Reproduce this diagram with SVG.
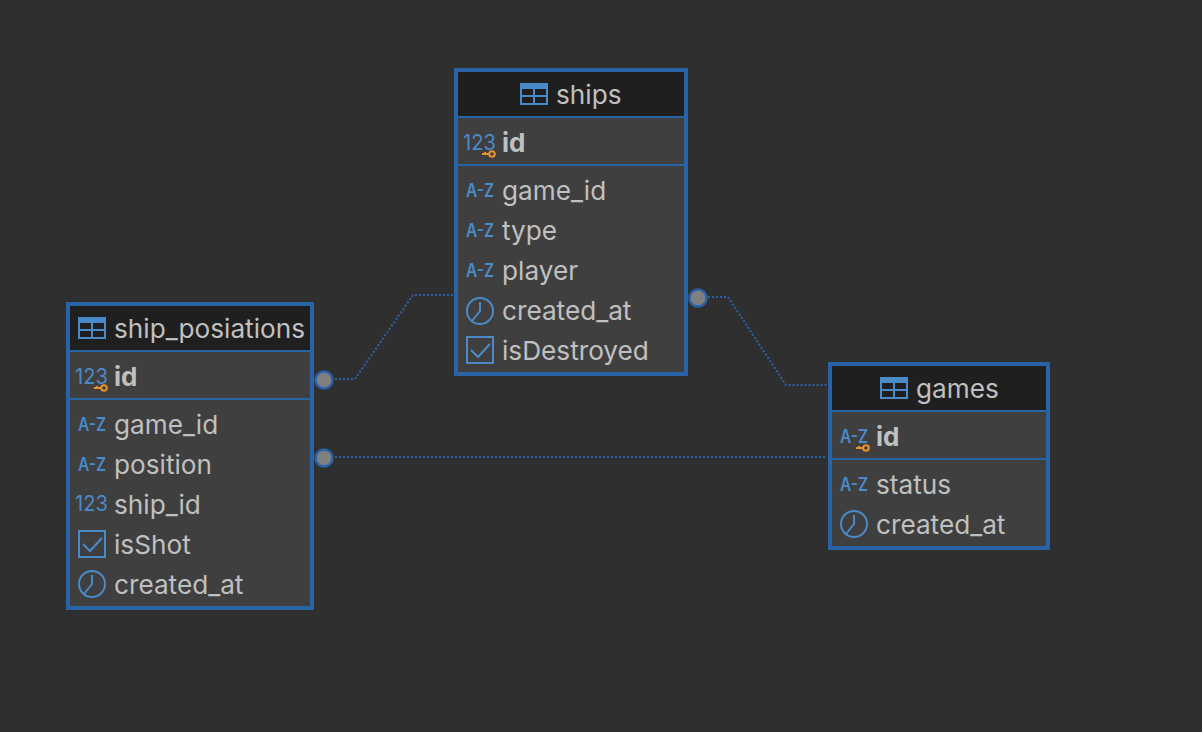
<svg xmlns="http://www.w3.org/2000/svg" width="1202" height="732" viewBox="0 0 1202 732">
<style>
text{font-family:Inter,"Liberation Sans",sans-serif}
.box{fill:#3f3f3f;stroke:#2a62a8;stroke-width:4}
.head{fill:#1f1f1f}
.sep{stroke:#2a62a8;stroke-width:2}
.t{fill:#c0c0c0;font-size:26.2px}
.b{font-weight:700;font-size:26px}
.ico{fill:#4a8ac8}
.az{font-weight:600;font-size:18px}
.n{font-size:21px}
.line{fill:none;stroke:#2a62a8;stroke-width:2;stroke-dasharray:2 2}
.port{fill:#808080;stroke:#2a62a8;stroke-width:2.5}
.st{fill:none;stroke:#4a8ac8;stroke-width:2}
.key{fill:none;stroke:#e8912d;stroke-width:2}
</style>
<defs>
<g id="tbl"><rect class="st" x="1" y="1" width="26" height="20"/><path d="M0 0H28V6H0Z" fill="#4a8ac8"/><path class="st" d="M1 13H27M14 5V21"/></g>
<g id="clock"><circle class="st" cx="14" cy="0" r="13"/><path class="st" d="M14 -9V0L6 10"/></g>
<g id="check"><rect class="st" x="1" y="-13" width="26" height="26"/><path class="st" d="M5 0L12 7L24 -6"/></g>
<g id="key"><circle class="key" cx="10" cy="0" r="2.8"/><path class="key" d="M0 0H7M3 0V-2"/></g>
</defs>
<rect width="1202" height="732" fill="#2f2f2f"/>
<g id="connectors">
<path class="line" d="M335 379H355L413 295H454"/>
<path class="line" d="M708 297H728L786 385H828"/>
<path class="line" d="M335 457H826"/>
<circle class="port" cx="324" cy="380" r="8.5"/>
<circle class="port" cx="324" cy="458" r="8.5"/>
<circle class="port" cx="698" cy="298" r="8.5"/>
</g>
<g id="ships">
<rect class="box" x="456" y="70" width="230" height="304"/>
<rect class="head" x="458" y="72" width="226" height="45"/>
<path class="sep" d="M458 117H684M458 165H684"/>
<use href="#tbl" x="520" y="83"/>
<text class="t" x="556" y="104">ships</text>
<text class="ico n" x="463" y="150" textLength="33" lengthAdjust="spacingAndGlyphs">123</text><use href="#key" x="482" y="154"/>
<text class="t b" x="502" y="152">id</text>
<text class="ico az" x="466" y="197" textLength="28" lengthAdjust="spacingAndGlyphs">A-Z</text><text class="t" x="502" y="200">game_id</text>
<text class="ico az" x="466" y="237" textLength="28" lengthAdjust="spacingAndGlyphs">A-Z</text><text class="t" x="502" y="240">type</text>
<text class="ico az" x="466" y="277" textLength="28" lengthAdjust="spacingAndGlyphs">A-Z</text><text class="t" x="502" y="280">player</text>
<use href="#clock" x="466" y="311"/><text class="t" x="502" y="320">created_at</text>
<use href="#check" x="466" y="350"/><text class="t" x="502" y="360">isDestroyed</text>
</g>
<g id="ship_posiations">
<rect class="box" x="68" y="304" width="244" height="304"/>
<rect class="head" x="70" y="306" width="240" height="45"/>
<path class="sep" d="M70 351H310M70 399H310"/>
<use href="#tbl" x="78" y="317"/>
<text class="t" x="114" y="338">ship_posiations</text>
<text class="ico n" x="75" y="384" textLength="33" lengthAdjust="spacingAndGlyphs">123</text><use href="#key" x="94" y="388"/>
<text class="t b" x="114" y="386">id</text>
<text class="ico az" x="78" y="431" textLength="28" lengthAdjust="spacingAndGlyphs">A-Z</text><text class="t" x="114" y="434">game_id</text>
<text class="ico az" x="78" y="471" textLength="28" lengthAdjust="spacingAndGlyphs">A-Z</text><text class="t" x="114" y="474">position</text>
<text class="ico n" x="75" y="511" textLength="33" lengthAdjust="spacingAndGlyphs">123</text><text class="t" x="114" y="514">ship_id</text>
<use href="#check" x="78" y="544"/><text class="t" x="114" y="554">isShot</text>
<use href="#clock" x="78" y="584"/><text class="t" x="114" y="594">created_at</text>
</g>
<g id="games">
<rect class="box" x="830" y="364" width="218" height="184"/>
<rect class="head" x="832" y="366" width="214" height="45"/>
<path class="sep" d="M832 411H1046M832 459H1046"/>
<use href="#tbl" x="880" y="377"/>
<text class="t" x="916" y="398">games</text>
<text class="ico az" x="840" y="443" textLength="28" lengthAdjust="spacingAndGlyphs">A-Z</text><use href="#key" x="856" y="448"/>
<text class="t b" x="876" y="446">id</text>
<text class="ico az" x="840" y="491" textLength="28" lengthAdjust="spacingAndGlyphs">A-Z</text><text class="t" x="876" y="494">status</text>
<use href="#clock" x="840" y="524"/><text class="t" x="876" y="534">created_at</text>
</g>
</svg>
